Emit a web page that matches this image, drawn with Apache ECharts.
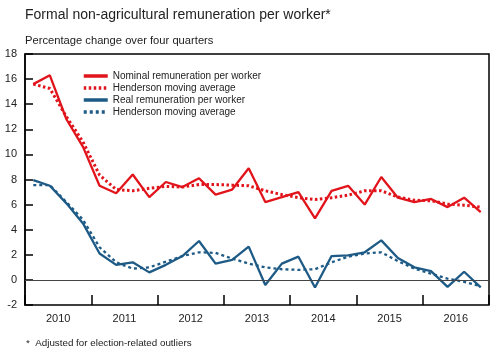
<!DOCTYPE html>
<html>
<head>
<meta charset="utf-8">
<script src="https://cdn.jsdelivr.net/npm/echarts@6/dist/echarts.min.js"></script>
<style>
html,body{margin:0;padding:0;background:#fff;}
#chart{width:504px;height:355px;}
</style>
</head>
<body>
<div id="chart"></div>
<script>
var quarters = [];
['2010','2011','2012','2013','2014','2015','2016'].forEach(function(y){
  ['Q1','Q2','Q3','Q4'].forEach(function(q){ quarters.push(y + q); });
});
var years = ['2010','2011','2012','2013','2014','2015','2016'];
var yTicks = [-2, 0, 2, 4, 6, 8, 10, 12, 14, 16, 18];

var nominal = [15.6, 16.3, 12.8, 10.6, 7.5, 6.9, 8.4, 6.6, 7.8, 7.4, 8.1, 6.8, 7.2, 8.9, 6.2, 6.6, 7.0, 4.9, 7.1, 7.5, 6.0, 8.2, 6.55, 6.2, 6.45, 5.8, 6.55, 5.4];
var nominalHMA = [15.6, 15.25, 13.0, 11.0, 8.35, 7.2, 7.1, 7.3, 7.45, 7.4, 7.6, 7.6, 7.55, 7.5, 7.1, 6.8, 6.55, 6.4, 6.55, 6.75, 7.1, 7.1, 6.6, 6.35, 6.3, 6.05, 5.95, 5.8];
var real = [7.95, 7.5, 6.1, 4.5, 2.1, 1.2, 1.4, 0.6, 1.2, 1.9, 3.1, 1.3, 1.6, 2.65, -0.4, 1.3, 1.85, -0.6, 1.9, 1.95, 2.2, 3.15, 1.75, 1.0, 0.7, -0.55, 0.65, -0.6];
var realHMA = [7.55, 7.55, 6.2, 4.8, 2.6, 1.4, 0.9, 1.0, 1.45, 1.9, 2.2, 2.15, 1.7, 1.3, 1.0, 0.85, 0.8, 0.85, 1.4, 1.85, 2.1, 2.2, 1.5, 0.9, 0.5, 0.1, -0.15, -0.5];

var names = ['Nominal remuneration per worker', 'Henderson moving average', 'Real remuneration per worker', 'Henderson moving average '];
var RED = '#e1141c', BLUE = '#1d5a85';
var FONT = 'Liberation Sans, Arial, sans-serif';

var chart = echarts.init(document.getElementById('chart'), null, {renderer: 'canvas'});
chart.setOption({
  animation: false,
  textStyle: {fontFamily: FONT},
  title: [
    {text: 'Formal non-agricultural remuneration per worker*', left: 20, top: 3,
     textStyle: {fontFamily: FONT, fontSize: 14, fontWeight: 'normal', color: '#222'}},
    {text: 'Percentage change over four quarters', left: 20, top: 30,
     textStyle: {fontFamily: FONT, fontSize: 11.2, fontWeight: 'normal', color: '#222'}},
    {text: '*  Adjusted for election-related outliers', left: 21, top: 333,
     textStyle: {fontFamily: FONT, fontSize: 9.8, fontWeight: 'normal', color: '#222'}}
  ],
  legend: {
    orient: 'vertical', left: 77, top: 66, itemGap: 2, itemWidth: 24, itemHeight: 10,
    itemStyle: {opacity: 0},
    lineStyle: {width: 3.5},
    textStyle: {fontFamily: FONT, fontSize: 10, color: '#222'},
    data: names
  },
  grid: {left: 25, right: 15, top: 54, bottom: 50, show: true, borderColor: '#000', borderWidth: 1.5, backgroundColor: 'transparent'},
  xAxis: [
    {type: 'category', data: quarters, boundaryGap: true, show: false, position: 'bottom'},
    {type: 'category', data: years, boundaryGap: true, position: 'bottom',
     axisLine: {show: false},
     axisTick: {show: true, inside: true, length: 10, lineStyle: {color: '#000', width: 1.5}},
     axisLabel: {fontFamily: FONT, fontSize: 11, color: '#222', margin: 8},
     splitLine: {show: false}}
  ],
  yAxis: {
    type: 'value', min: -2, max: 18, interval: 2,
    axisLine: {show: true, lineStyle: {color: '#000', width: 1.5}},
    axisTick: {show: true, inside: true, length: 8, lineStyle: {color: '#000', width: 1.5}},
    axisLabel: {fontFamily: FONT, fontSize: 11, color: '#222', margin: 8,
      formatter: function(v){ return yTicks.indexOf(v) >= 0 ? String(v) : ''; }},
    splitLine: {show: false}
  },
  series: [
    {name: names[0], type: 'line', xAxisIndex: 0, data: nominal, symbol: 'none', z: 3,
     lineStyle: {color: RED, width: 2.3}, itemStyle: {color: RED},
     markLine: {silent: true, symbol: 'none', label: {show: false}, lineStyle: {color: '#444', width: 1, type: 'solid'}, data: [{yAxis: 0}]}},
    {name: names[1], type: 'line', xAxisIndex: 0, data: nominalHMA, symbol: 'none', z: 4,
     lineStyle: {color: RED, width: 3, type: [2.5, 2.5]}, itemStyle: {color: RED}},
    {name: names[2], type: 'line', xAxisIndex: 0, data: real, symbol: 'none', z: 3,
     lineStyle: {color: BLUE, width: 2.3}, itemStyle: {color: BLUE}},
    {name: names[3], type: 'line', xAxisIndex: 0, data: realHMA, symbol: 'none', z: 4,
     lineStyle: {color: BLUE, width: 2.3, type: [3, 3]}, itemStyle: {color: BLUE}}
  ]
});
</script>
</body>
</html>
